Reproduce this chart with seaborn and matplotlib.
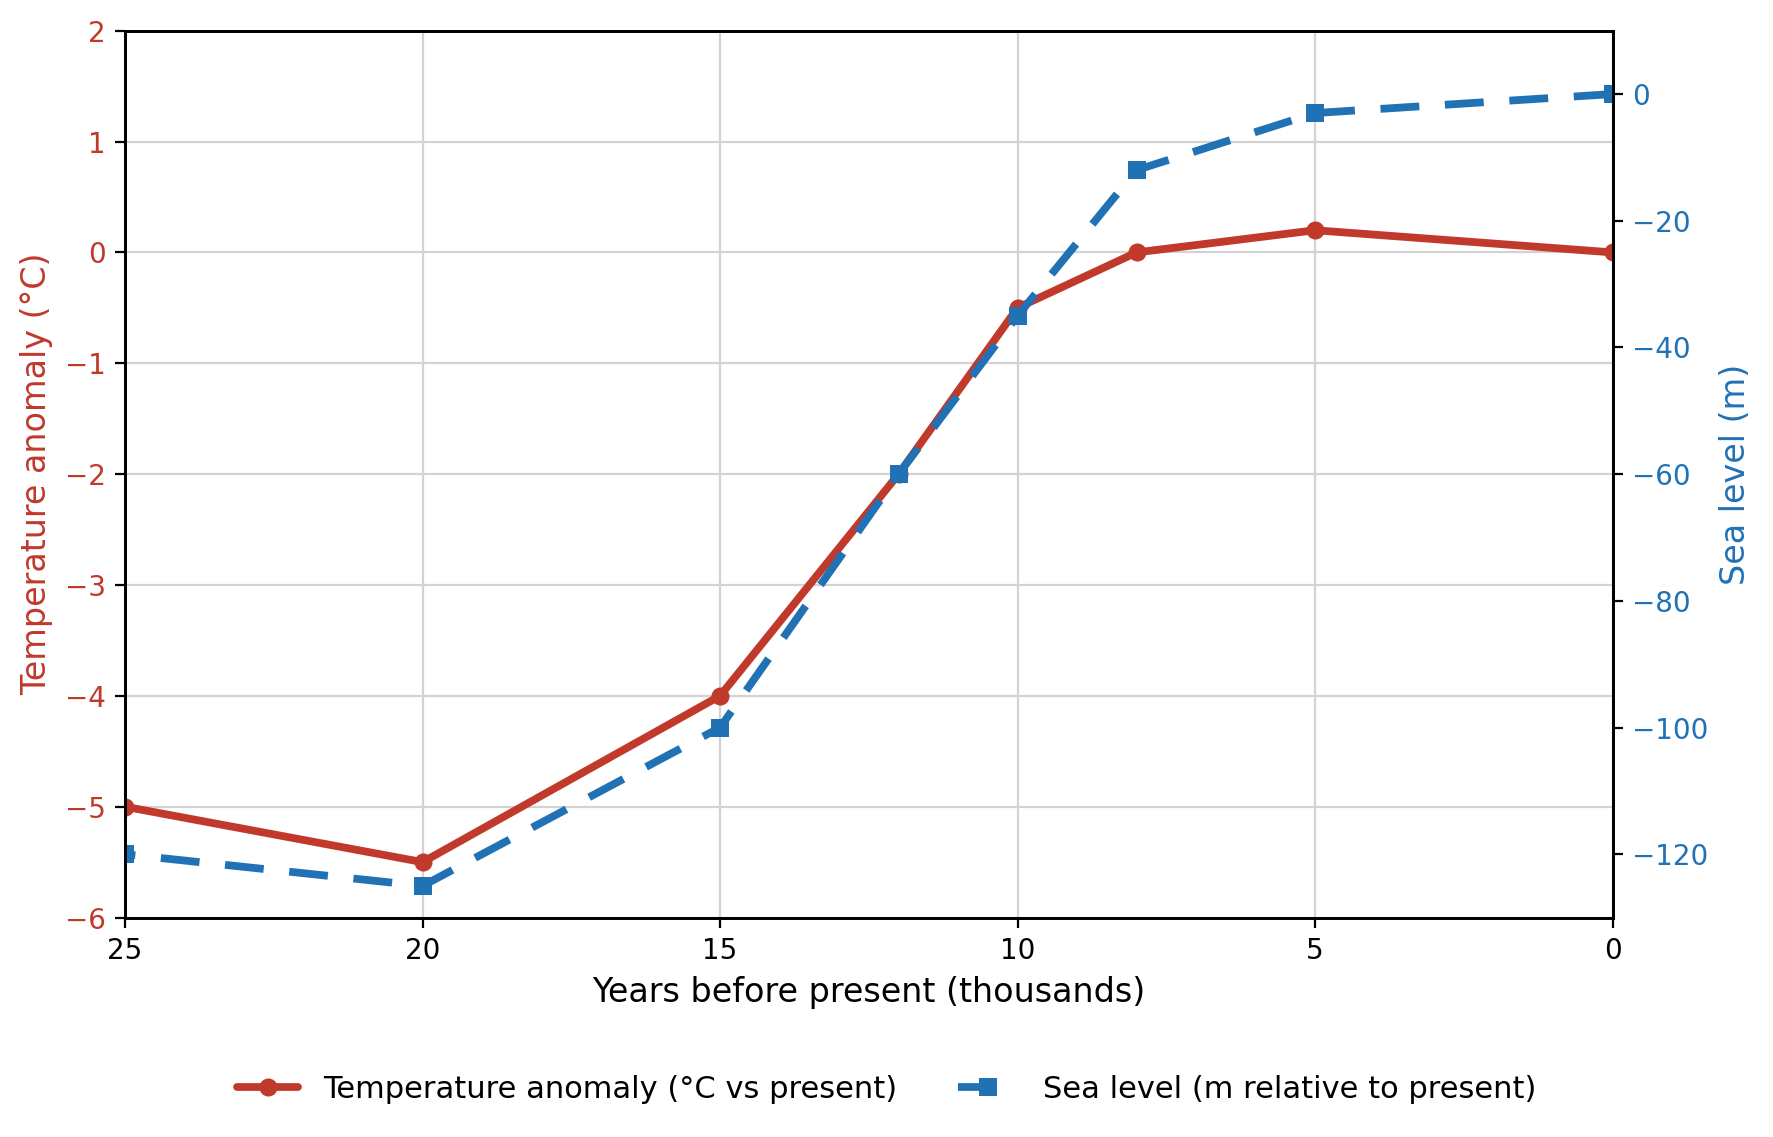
import pandas as pd
import numpy as np

import matplotlib.pyplot as plt
import seaborn as sns

# values
years_bp = [25, 20, 15, 12, 10, 8, 5, 0]
temp_anomaly = [-5.0, -5.5, -4.0, -2.0, -0.5, 0.0, 0.2, 0.0]
sea_level = [-120, -125, -100, -60, -35, -12, -3, 0]

temp_color = '#c0392b'
sea_color = '#2171b5'

df = pd.DataFrame({'years': years_bp, 'temp': temp_anomaly, 'sea': sea_level})

sns.set_style('ticks')
plt.rcParams['font.family'] = ['DejaVu Sans']
plt.rcParams['text.color'] = 'black'
plt.rcParams['axes.labelcolor'] = 'black'
plt.rcParams['xtick.color'] = 'black'
plt.rcParams['ytick.color'] = 'black'

fig, ax1 = plt.subplots(figsize=(8.87, 5.685), dpi=200)
fig.subplots_adjust(left=0.0705, right=0.909, top=0.973, bottom=0.193)

sns.lineplot(data=df, x='years', y='temp', ax=ax1, color=temp_color,
             linewidth=2.8, marker='o', markersize=6.5, markeredgewidth=0,
             label='Temperature anomaly (°C vs present)', legend=False)

ax2 = ax1.twinx()
sns.lineplot(data=df, x='years', y='sea', ax=ax2, color=sea_color,
             linewidth=2.8, marker='s', markersize=6.5,
             markeredgewidth=0, label='Sea level (m relative to present)', legend=False)
ax2.lines[0].set_dashes((5, 3.3))

ax1.set_xlim(25, 0)
ax1.set_ylim(-6, 2)
ax2.set_ylim(-130, 10)

ax1.grid(True, color='#d3d3d3', linewidth=0.8)
ax1.set_axisbelow(True)

ax1.set_xlabel('Years before present (thousands)', fontsize=12)
ax1.set_ylabel('Temperature anomaly (°C)', fontsize=12, color=temp_color)
ax2.set_ylabel('Sea level (m)', fontsize=12, color=sea_color)

ax1.tick_params(axis='y', labelcolor=temp_color, labelsize=10)
ax1.tick_params(axis='x', labelsize=10)
ax2.tick_params(axis='y', labelcolor=sea_color, labelsize=10)

for ax in (ax1, ax2):
    for s in ax.spines.values():
        s.set_color('black')
        s.set_linewidth(1.0)

h1, l1 = ax1.get_legend_handles_labels()
h2, l2 = ax2.get_legend_handles_labels()
fig.legend(h1 + h2, l1 + l2, loc='lower center', ncol=2, frameon=False,
           fontsize=11, bbox_to_anchor=(0.5, 0.005), columnspacing=2.0,
           handlelength=2.0)

fig.savefig('out.png', dpi=200)
